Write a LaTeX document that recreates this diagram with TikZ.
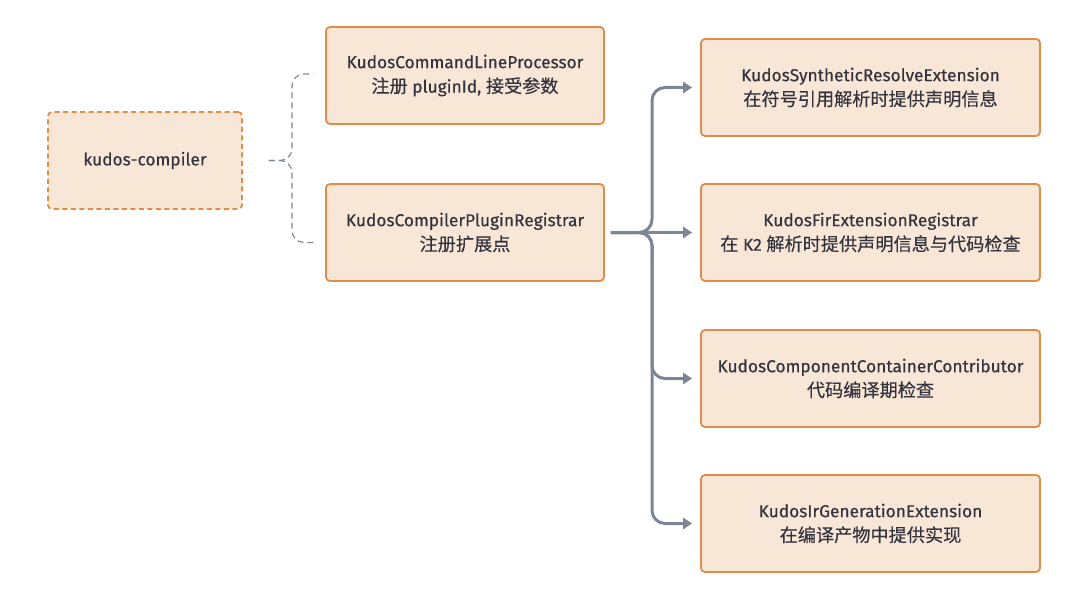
\documentclass[tikz,border=0pt]{standalone}
\usepackage{fontspec}
\setmainfont{Fira Sans}[FakeBold=0.35]
\newfontfamily\cjk{Noto Sans CJK SC}[FakeBold=0.35,Scale=1.05]
\usetikzlibrary{arrows.meta}
\definecolor{boxFill}{HTML}{F8E6D7}
\definecolor{boxLine}{HTML}{E08C4B}
\definecolor{linkGray}{HTML}{7B8694}
\definecolor{textDark}{HTML}{33333E}
\newcommand{\zh}[1]{{\cjk #1}}

\begin{document}
\begin{tikzpicture}
[x=1pt,y=-1pt,%
  boxDecorate/.style={shape=rectangle,rounded corners=4pt,draw=boxLine,line width=1.8pt,
    fill=boxFill,text=textDark,align=center,minimum height=97pt,
    font=\fontsize{17.3}{24.5}\selectfont},%
  rootDecorate/.style={boxDecorate,dash pattern=on 5pt off 3.5pt,minimum width=194pt},%
  leftDecorate/.style={boxDecorate,minimum width=278pt},%
  rightDecorate/.style={boxDecorate,minimum width=339pt},%
  braceDecorate/.style={linkGray,line width=1.2pt,dash pattern=on 6pt off 4pt,rounded corners=12pt},%
  arrowDecorate/.style={linkGray,line width=3pt,rounded corners=13pt,
    -{Triangle[length=9pt,width=11pt]}}]
\useasboundingbox (0,0) rectangle (1082,594);
%% nodes
\node (kc) at (145,160.5) [rootDecorate] {kudos-compiler};
\node (clp) at (465,75.5) [leftDecorate]
  {KudosCommandLineProcessor\\\zh{注册} pluginId, \zh{接受参数}};
\node (cpr) at (465,232.5) [leftDecorate]
  {KudosCompilerPluginRegistrar\\\zh{注册扩展点}};
\foreach \nodename/\y/\title/\desc in {
  sre/87.5/KudosSyntheticResolveExtension/{\zh{在符号引用解析时提供声明信息}},
  fer/232.5/KudosFirExtensionRegistrar/{\zh{在} K2 \zh{解析时提供声明信息与代码检查}},
  ccc/378.5/KudosComponentContainerContributor/{\zh{代码编译期检查}},
  ige/523.5/KudosIrGenerationExtension/{\zh{在编译产物中提供实现}}}
{
  \node (\nodename) at (870.5,\y) [rightDecorate] {\title\\\desc};
}
%% brace from the root
\coordinate (braceTip) at ([xshift=26pt]kc.east);
\coordinate (braceMid) at (292,160.5);
\draw[braceDecorate] (braceTip) -- (braceMid) |- ([xshift=-12pt,yshift=1.5pt]clp.west);
\draw[braceDecorate] (braceTip) -- (braceMid) |- ([xshift=-10pt,yshift=-10pt]cpr.west);
%% arrows to the extensions
\coordinate (split) at (652,232.5);
\draw[arrowDecorate] ([xshift=6pt]cpr.east) -- ([xshift=-8pt]fer.west);
\foreach \endnode in {sre,ccc,ige}
{
  \draw[arrowDecorate] ([xshift=6pt]cpr.east) -- (split) |- ([xshift=-8pt]\endnode.west);
}
\end{tikzpicture}
\end{document}
